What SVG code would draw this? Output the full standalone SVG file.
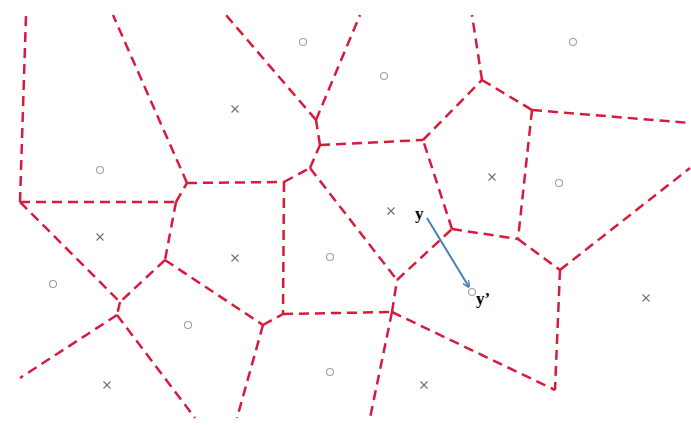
<svg xmlns="http://www.w3.org/2000/svg" width="691" height="425" viewBox="0 0 691 425">
<defs>
<style>
.e{stroke:#d81b3c;stroke-width:2.5;stroke-dasharray:10 6;fill:none}
.c{fill:none;stroke:#a0a0a0;stroke-width:1.1}
.x{stroke:#707070;stroke-width:1.1}
.t{font-family:"Liberation Serif","Times New Roman",serif;font-weight:bold;font-size:17px;fill:#000}
</style>
<marker id="ah" viewBox="0 0 10 10" refX="9" refY="5" markerWidth="7" markerHeight="7" orient="auto" markerUnits="userSpaceOnUse">
<path d="M0,0 L10,5 L0,10" fill="none" stroke="#4a7ebb" stroke-width="2"/>
</marker>
<g id="xm"><line class="x" x1="-3.5" y1="-3.5" x2="3.5" y2="3.5"/><line class="x" x1="-3.5" y1="3.5" x2="3.5" y2="-3.5"/></g>
</defs>
<rect width="691" height="425" fill="#fff"/>
<g id="connectors">
<line class="e" x1="20" y1="202" x2="26" y2="15"/>
<line class="e" x1="20" y1="202" x2="176" y2="202"/>
<line class="e" x1="20" y1="202" x2="120" y2="302"/>
<line class="e" x1="176" y1="202" x2="187" y2="183"/>
<line class="e" x1="176" y1="202" x2="165" y2="260"/>
<line class="e" x1="187" y1="183" x2="113" y2="15"/>
<line class="e" x1="187" y1="183" x2="284" y2="182"/>
<line class="e" x1="284" y1="182" x2="310" y2="168"/>
<line class="e" x1="284" y1="182" x2="283" y2="314"/>
<line class="e" x1="310" y1="168" x2="320" y2="145"/>
<line class="e" x1="320" y1="145" x2="316" y2="120"/>
<line class="e" x1="316" y1="120" x2="226" y2="15"/>
<line class="e" x1="316" y1="120" x2="360" y2="15"/>
<line class="e" x1="320" y1="145" x2="423" y2="140"/>
<line class="e" x1="310" y1="168" x2="397" y2="280"/>
<line class="e" x1="165" y1="260" x2="120" y2="302"/>
<line class="e" x1="165" y1="260" x2="263" y2="325"/>
<line class="e" x1="120" y1="302" x2="117" y2="315"/>
<line class="e" x1="117" y1="315" x2="20" y2="378"/>
<line class="e" x1="117" y1="315" x2="195" y2="418"/>
<line class="e" x1="263" y1="325" x2="283" y2="314"/>
<line class="e" x1="263" y1="325" x2="237" y2="418"/>
<line class="e" x1="283" y1="314" x2="392" y2="312"/>
<line class="e" x1="392" y1="312" x2="397" y2="280"/>
<line class="e" x1="392" y1="312" x2="370" y2="418"/>
<line class="e" x1="392" y1="312" x2="555" y2="390"/>
<line class="e" x1="397" y1="280" x2="452" y2="229"/>
<line class="e" x1="452" y1="229" x2="423" y2="140"/>
<line class="e" x1="452" y1="229" x2="518" y2="239"/>
<line class="e" x1="423" y1="140" x2="482" y2="80"/>
<line class="e" x1="482" y1="80" x2="472" y2="15"/>
<line class="e" x1="482" y1="80" x2="532" y2="110"/>
<line class="e" x1="532" y1="110" x2="690" y2="123"/>
<line class="e" x1="532" y1="110" x2="518" y2="239"/>
<line class="e" x1="518" y1="239" x2="560" y2="270"/>
<line class="e" x1="560" y1="270" x2="690" y2="168"/>
<line class="e" x1="560" y1="270" x2="555" y2="390"/>
</g>
<g id="circles">
<circle class="c" cx="303" cy="42" r="3.5"/>
<circle class="c" cx="384" cy="76" r="3.5"/>
<circle class="c" cx="573" cy="42" r="3.5"/>
<circle class="c" cx="100" cy="170" r="3.5"/>
<circle class="c" cx="559" cy="183" r="3.5"/>
<circle class="c" cx="330" cy="257" r="3.5"/>
<circle class="c" cx="53" cy="284" r="3.5"/>
<circle class="c" cx="188" cy="325" r="3.5"/>
<circle class="c" cx="330" cy="372" r="3.5"/>
<circle class="c" cx="472" cy="292" r="3.5"/>
</g>
<g id="crosses">
<use href="#xm" x="235" y="109"/>
<use href="#xm" x="100" y="237"/>
<use href="#xm" x="235" y="258"/>
<use href="#xm" x="107" y="385"/>
<use href="#xm" x="391" y="211"/>
<use href="#xm" x="492" y="177"/>
<use href="#xm" x="424" y="385"/>
<use href="#xm" x="646" y="298"/>
</g>
<g id="arrow">
<line x1="427" y1="218" x2="469" y2="287" stroke="#4a7ebb" stroke-width="2" marker-end="url(#ah)"/>
</g>
<g id="labels">
<text class="t" x="415" y="219">y</text>
<text class="t" x="476" y="304">y’</text>
</g>
</svg>
